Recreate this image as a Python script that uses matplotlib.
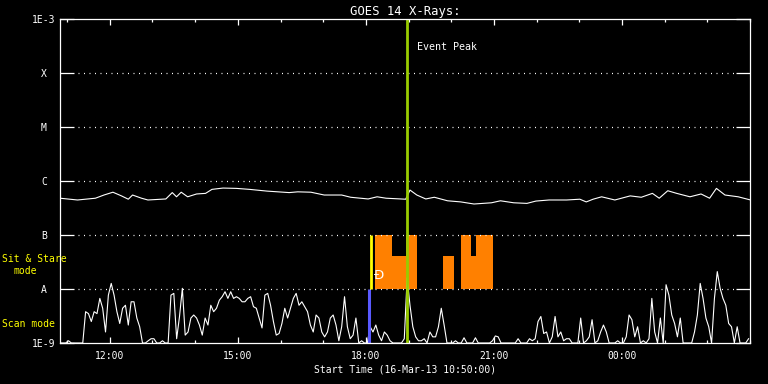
import matplotlib.pyplot as plt
import numpy as np
from matplotlib.ticker import FixedLocator, NullLocator

# --- data ---
start_clock = "10:50"
start_label = "Start Time (16-Mar-13 10:50:00)"
end_hours = 16.1667

# long channel (1-8 A), hours after start, flux in 1e-7 W/m^2
long_t = [0.00, 0.41, 0.83, 1.03, 1.24, 1.44, 1.60, 1.70, 1.91, 2.06, 2.48, 2.63,
          2.73, 2.84, 2.99, 3.20, 3.41, 3.56, 3.82, 4.13, 4.44, 4.85, 5.37, 5.57,
          5.88, 6.19, 6.60, 6.81, 7.22, 7.43, 7.64, 8.10, 8.20, 8.36, 8.57, 8.77,
          9.08, 9.39, 9.70, 10.11, 10.32, 10.63, 10.94, 11.15, 11.46, 11.87, 12.18,
          12.33, 12.49, 12.69, 13.00, 13.36, 13.62, 13.88, 14.04, 14.24, 14.45,
          14.76, 15.02, 15.22, 15.38, 15.58, 15.89, 16.18]
long_v = [4.8, 4.45, 4.8, 5.5, 6.2, 5.3, 4.6, 5.5, 4.8, 4.45, 4.65, 6.1,
          5.1, 6.2, 5.1, 5.75, 5.9, 7.0, 7.4, 7.3, 7.0, 6.5, 6.1, 6.3,
          6.2, 5.5, 5.5, 5.0, 4.65, 5.1, 4.8, 4.6, 6.8, 5.5, 4.65, 5.0,
          4.3, 4.1, 3.75, 3.95, 4.3, 3.95, 3.85, 4.25, 4.45, 4.45, 4.6,
          4.1, 4.6, 5.1, 4.45, 5.3, 5.0, 5.9, 4.8, 6.6, 5.9,
          5.1, 5.75, 4.8, 7.3, 5.5, 5.1, 4.45]

# short channel (0.5-4 A), one sample every 4 minutes, flux in 1e-9 W/m^2
short_cadence_min = 4
short_v = [1.0, 1.0, 1.0, 1.1, 1.0, 1.0, 1.0, 1.0, 1.0, 3.8,
           3.5, 2.5, 3.8, 3.5, 6.7, 4.4, 1.6, 7.7, 12.7, 7.7,
           3.8, 2.3, 4.4, 5.0, 2.15, 5.8, 5.8, 2.9, 2.0, 1.0,
           1.0, 1.1, 1.2, 1.2, 1.0, 1.0, 1.1, 1.0, 1.0, 7.7,
           8.3, 1.2, 3.1, 10.3, 1.4, 1.6, 2.9, 3.3, 2.9, 2.15,
           1.4, 2.9, 2.15, 5.0, 3.8, 4.4, 6.2, 7.2, 8.9, 6.7,
           8.9, 6.7, 7.2, 6.7, 5.8, 5.8, 6.7, 7.2, 4.7, 4.4,
           2.9, 1.9, 7.7, 8.3, 5.0, 2.5, 1.4, 1.5, 2.3, 4.4,
           2.9, 4.4, 6.7, 8.3, 5.0, 5.8, 4.7, 3.8, 2.15, 1.6,
           3.3, 2.9, 1.6, 1.3, 1.6, 2.9, 3.3, 2.15, 1.1, 2.0,
           7.2, 2.0, 1.2, 1.4, 2.9, 1.0, 1.1, 1.0, 1.0, 2.0,
           1.6, 2.15, 1.4, 1.1, 1.6, 1.4, 1.1, 1.0, 1.0, 1.0,
           1.0, 1.2, 16.0, 5.0, 2.0, 1.3, 1.1, 1.1, 1.2, 1.0,
           1.6, 1.3, 1.3, 2.0, 4.4, 2.15, 1.0, 1.0, 1.0, 1.1,
           1.0, 1.0, 1.25, 1.0, 1.0, 1.0, 1.25, 1.0, 1.0, 1.0,
           1.0, 1.0, 1.1, 1.35, 1.3, 1.0, 1.0, 1.0, 1.0, 1.0,
           1.0, 1.2, 1.0, 1.0, 1.0, 1.2, 1.1, 1.2, 2.5, 3.1,
           1.5, 1.6, 1.0, 1.3, 3.1, 1.3, 1.6, 1.1, 1.2, 1.2,
           1.0, 1.0, 1.0, 2.9, 1.0, 1.1, 1.3, 2.7, 1.0, 1.1,
           1.6, 2.15, 1.6, 1.0, 1.0, 1.0, 1.1, 1.0, 1.0, 1.3,
           3.3, 2.7, 1.3, 2.0, 1.0, 1.1, 1.0, 1.2, 6.7, 1.6,
           1.0, 2.9, 1.0, 12.0, 7.7, 3.3, 2.3, 1.3, 2.9, 1.0,
           1.0, 1.0, 1.0, 1.6, 3.3, 12.7, 6.7, 2.9, 2.0, 1.0,
           6.7, 21.0, 10.3, 6.7, 5.0, 2.3, 2.0, 1.0, 2.0, 1.0,
           1.0, 1.0, 1.2]

# sit & stare intervals (hours after start) and their top flux
ss_start = [7.38, 7.78, 8.11, 8.97, 9.40, 9.63, 9.75]
ss_end = [7.78, 8.11, 8.36, 9.23, 9.63, 9.75, 10.15]
ss_top = [1e-7, 4e-8, 1e-7, 4e-8, 1e-7, 4e-8, 1e-7]

scan_time = 7.24     # blue marker
stare_time = 7.29    # yellow marker
peak_time = 8.13     # event peak

goes_levels = [1e-3, 1e-4, 1e-5, 1e-6, 1e-7, 1e-8, 1e-9]
goes_labels = ["1E-3", "X", "M", "C", "B", "A", "1E-9"]
xtick_labels = ["12:00", "15:00", "18:00", "21:00", "00:00"]


def hours_after_start(clock):
    h, m = clock.split(":")
    h0, m0 = start_clock.split(":")
    return ((int(h) + int(m) / 60) - (int(h0) + int(m0) / 60)) % 24


plt.rcParams['font.family'] = ['DejaVu Sans Mono']
fig = plt.figure(figsize=(7.68, 3.84), dpi=100, facecolor='black')
ax = fig.add_axes([60 / 768, 41 / 384, 690 / 768, 324 / 384])
ax.set_facecolor('black')
ax.set_yscale('log')
ax.set_ylim(1e-9, 1e-3)
ax.set_xlim(0, end_hours)

# dotted level lines
for lev in goes_levels[1:-1]:
    ax.axhline(lev, xmin=18 / 690, xmax=675 / 690, color='white', lw=0.9,
               linestyle=(0, (0.8, 3.6)))

# sit & stare blocks
ax.bar(ss_start, np.array(ss_top) - 1e-8, width=np.array(ss_end) - np.array(ss_start),
       bottom=1e-8, align='edge', color='#ff8000', linewidth=0)

# data traces
short_t = np.arange(len(short_v)) * short_cadence_min / 60
ax.plot(short_t, np.array(short_v) * 1e-9, color='white', lw=0.8)
ax.plot(long_t, np.array(long_v) * 1e-7, color='white', lw=0.8)

# mode markers
ax.vlines(scan_time, 1e-9, 1e-8, color='#5a5aff', lw=2.2)
ax.vlines(stare_time, 1e-8, 1e-7, color='#ffff00', lw=2.0)
ax.text(stare_time + 0.07, 1.75e-8, "Ð", color='white', fontsize=9.5, va='center',
        family=['DejaVu Sans'])
ax.axvline(peak_time, color='#99cc00', lw=2.0)
ax.text(peak_time + 0.23, 3e-4, "Event Peak", color='white', fontsize=7.2, va='center')

# axes styling
for sp in ax.spines.values():
    sp.set_color('white')
    sp.set_linewidth(0.9)

ax.yaxis.set_major_locator(FixedLocator(goes_levels))
ax.yaxis.set_minor_locator(NullLocator())
ax.set_yticklabels(goes_labels, ha='center')
ax.tick_params(axis='y', which='major', direction='in', length=10, width=0.9,
               colors='white', labelsize=7, pad=11.5, left=True, right=True)

ax.set_xticks([hours_after_start(s) for s in xtick_labels])
ax.set_xticklabels(xtick_labels)
ax.set_xticks(np.arange(hours_after_start("11:00"), end_hours, 1.0), minor=True)
ax.tick_params(axis='x', which='major', direction='in', length=4, width=0.9,
               colors='white', labelsize=7, pad=6, top=True, bottom=True)
ax.tick_params(axis='x', which='minor', direction='in', length=2, width=0.9,
               colors='white', top=True, bottom=True)

ax.set_xlabel(start_label, color='white', fontsize=7, labelpad=2)
ax.set_title("GOES 14 X-Rays:", color='white', fontsize=8.8, pad=3)

fig.text(2 / 768, 1 - 259 / 384, "Sit & Stare", color='#ffff00', fontsize=7, va='center')
fig.text(13 / 768, 1 - 271 / 384, "mode", color='#ffff00', fontsize=7, va='center')
fig.text(2 / 768, 1 - 324 / 384, "Scan mode", color='#ffff00', fontsize=7, va='center')

fig.savefig('out.png', dpi=100, facecolor='black')
